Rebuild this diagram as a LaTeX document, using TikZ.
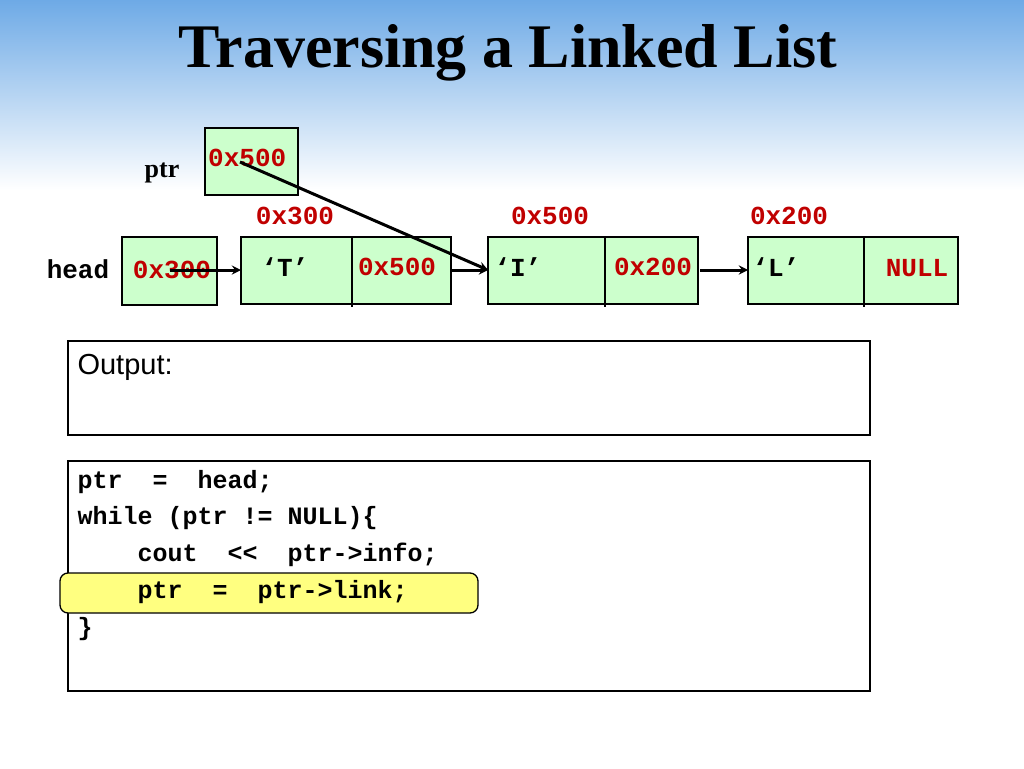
\documentclass[tikz,border=0pt]{standalone}
\usepackage{fontspec}
\setmainfont{Liberation Serif}
\setsansfont{Liberation Sans}
\setmonofont{Liberation Mono}
\definecolor{cellgreen}{RGB}{204,255,204}
\definecolor{addrred}{RGB}{192,0,0}
\definecolor{skyblue}{RGB}{110,170,230}
\definecolor{hiyellow}{RGB}{255,255,128}
\tikzset{
  cell/.style={draw,line width=1.3,fill=cellgreen},
  addr/.style={text=addrred,font=\ttfamily\bfseries\fontsize{26}{28}\selectfont},
  val/.style={font=\ttfamily\bfseries\fontsize{26}{28}\selectfont},
  code/.style={font=\ttfamily\bfseries\fontsize{25}{28}\selectfont,anchor=west},
  link/.style={->,line width=3,>=stealth}
}
\begin{document}
\begin{tikzpicture}[x=1pt,y=-1pt]
\useasboundingbox (0,0) rectangle (1024,768);
\shade[top color=skyblue,bottom color=white] (0,0) rectangle (1024,190);
\node (title) at (508,53) {\bfseries\fontsize{62}{66}\selectfont Traversing a Linked List};
% pointer variable
\draw[cell] (205,128) rectangle (298,195);
\node[addr,anchor=west,inner sep=0] (ptrval) at (208,158) {0x500};
\node[font=\bfseries\fontsize{26}{28}\selectfont] (ptrlbl) at (162,173) {ptr};
% addresses
\node[addr] (a1) at (295,216) {0x300};
\node[addr] (a2) at (550,216) {0x500};
\node[addr] (a3) at (789,216) {0x200};
% head
\node[val] (headlbl) at (78,269) {head};
\draw[cell] (122,237) rectangle (217,305);
\node[addr] (headval) at (172,270) {0x300};
% list nodes
\draw[cell] (241,237) rectangle (451,304);
\draw[line width=1.3] (352,237) -- (352,307);
\node[val] (d1) at (285,267) {‘T’};
\node[addr] (l1) at (397,267) {0x500};
\draw[cell] (488,237) rectangle (698,304);
\draw[line width=1.3] (605,237) -- (605,307);
\node[val] (d2) at (518,267) {‘I’};
\node[addr] (l2) at (653,267) {0x200};
\draw[cell] (748,237) rectangle (958,304);
\draw[line width=1.3] (864,237) -- (864,307);
\node[val] (d3) at (776,267) {‘L’};
\node[addr] (l3) at (917,268) {NULL};
\coordinate (n1) at (241,270);
\coordinate (n2) at (488,270);
\coordinate (n3) at (748,270);
\coordinate (p0) at (240,162);
\coordinate (h0) at (170,270);
\coordinate (l1e) at (452,270);
\coordinate (l2e) at (700,270);
\draw[link] (h0) -- (n1);
\draw[link] (l1e) -- (n2);
\draw[link] (l2e) -- (n3);
\draw[link] (p0) -- (n2);
% output
\draw[line width=1.3] (68,341) rectangle (870,435);
\node[anchor=west,font=\sffamily\fontsize{29}{32}\selectfont] (out) at (74,367) {Output:};
% code
\draw[line width=1.3] (68,461) rectangle (870,691);
\draw[fill=hiyellow,line width=1.3,rounded corners=8] (60,573) rectangle (478,613);
\node[code] (c1) at (74,482) {ptr\ \ =\ \ head;};
\node[code] (c2) at (74,518) {while (ptr != NULL)\{};
\node[code] (c3) at (74,555) {\ \ \ \ cout\ \ <<\ \ ptr->info;};
\node[code] (c4) at (74,592) {\ \ \ \ ptr\ \ =\ \ ptr->link;};
\node[code] (c5) at (74,629) {\}};
\end{tikzpicture}
\end{document}
